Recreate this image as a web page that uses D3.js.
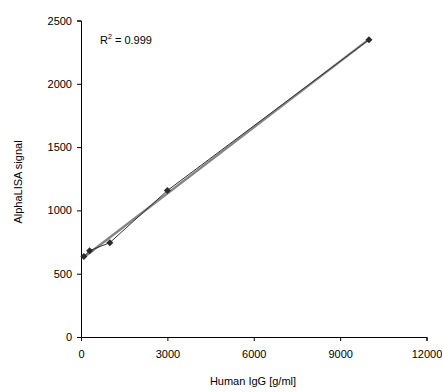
<!DOCTYPE html>
<html><head><meta charset="utf-8">
<script src="https://cdn.jsdelivr.net/npm/d3@7/dist/d3.min.js"></script>
<style>body{margin:0;background:#fff;} text{font-family:"Liberation Sans",Arial,sans-serif;}</style>
</head><body><svg id="c" width="442" height="392"></svg>
<script>
const concentrations = [100, 300, 1000, 3000, 10000];
const signals = [635, 682, 745, 1157, 2348];
const xTicks = [0, 3000, 6000, 9000, 12000];
const yTicks = [0, 500, 1000, 1500, 2000, 2500];
const xTitle = "Human IgG [g/ml]";
const yTitle = "AlphaLISA signal";

const svg = d3.select("#c");
const x = d3.scaleLinear().domain([0, 12000]).range([81, 426.5]);
const y = d3.scaleLinear().domain([0, 2500]).range([337, 20.5]);

const xa = svg.append("g").attr("transform", `translate(0,${y(0)})`)
  .call(d3.axisBottom(x).tickValues(xTicks).tickSize(4).tickPadding(9).tickFormat(d3.format("d")));
const ya = svg.append("g").attr("transform", `translate(${x(0)},0)`)
  .call(d3.axisLeft(y).tickValues(yTicks).tickSize(4).tickPadding(5).tickFormat(d3.format("d")));
[xa, ya].forEach(a => {
  a.select(".domain").attr("stroke", "#000");
  a.selectAll(".tick line").attr("stroke", "#000");
  a.selectAll("text").attr("font-size", 11).attr("fill", "#000").attr("font-family", "Liberation Sans, Arial, sans-serif");
});

const n = concentrations.length;
const mx = d3.mean(concentrations), my = d3.mean(signals);
let sxy = 0, sxx = 0, syy = 0;
for (let i = 0; i < n; i++) {
  sxy += (concentrations[i]-mx)*(signals[i]-my);
  sxx += (concentrations[i]-mx)**2;
  syy += (signals[i]-my)**2;
}
const slope = sxy/sxx, intercept = my - slope*mx;
const r2 = sxy*sxy/(sxx*syy);
const ext = d3.extent(concentrations);

svg.append("line")
  .attr("x1", x(ext[0])).attr("y1", y(intercept + slope*ext[0]))
  .attr("x2", x(ext[1])).attr("y2", y(intercept + slope*ext[1]))
  .attr("stroke", "#858585").attr("stroke-width", 2.4);

const pts = concentrations.map((c, i) => [c, signals[i]]);
svg.append("path").datum(pts)
  .attr("d", d3.line().x(d => x(d[0])).y(d => y(d[1])))
  .attr("fill", "none").attr("stroke", "#333").attr("stroke-width", 1);

svg.selectAll(".m").data(pts).enter().append("path")
  .attr("transform", d => `translate(${x(d[0])},${y(d[1])})`)
  .attr("d", "M0,-3.5L3.5,0L0,3.5L-3.5,0Z")
  .attr("fill", "#2a2a2a");

const t = svg.append("text").attr("x", 100).attr("y", 44).attr("font-size", 11).attr("fill", "#000");
t.append("tspan").text("R");
t.append("tspan").attr("dy", -5).attr("font-size", 7).text("2");
t.append("tspan").attr("dy", 5).text(" = " + r2.toFixed(3));

svg.append("text").attr("x", 253).attr("y", 385).attr("text-anchor", "middle")
  .attr("font-size", 11).text(xTitle);
svg.append("text").attr("transform", "translate(22,182) rotate(-90)").attr("text-anchor", "middle")
  .attr("font-size", 11).text(yTitle);
</script></body></html>
